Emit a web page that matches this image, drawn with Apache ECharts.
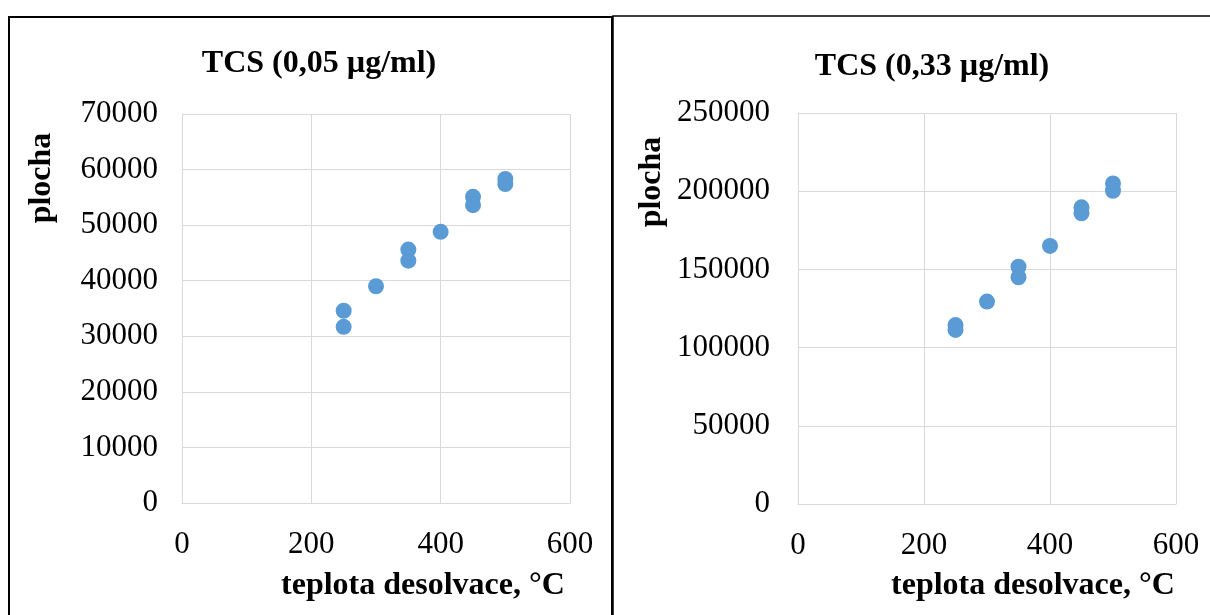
<!DOCTYPE html>
<html>
<head>
<meta charset="utf-8">
<script src="https://cdn.jsdelivr.net/npm/echarts@6/dist/echarts.min.js"></script>
<style>
html,body{margin:0;padding:0;background:#fff;}
#c{width:1210px;height:615px;}
</style>
</head>
<body>
<div id="c"></div>
<script>
// Data
const titles = ['TCS (0,05 µg/ml)', 'TCS (0,33 µg/ml)'];
const xName = 'teplota desolvace, °C';
const yName = 'plocha';
const temps = [250, 250, 300, 350, 350, 400, 450, 450, 500, 500];
const areaLow = [34600, 31700, 39000, 45600, 43600, 48800, 55100, 53600, 58300, 57400];
const areaHigh = [114400, 111300, 129400, 151700, 145000, 165000, 189700, 185900, 205000, 200300];
const xTicks = [0, 200, 400, 600];
const yTicksLow = [0, 10000, 20000, 30000, 40000, 50000, 60000, 70000];
const yTicksHigh = [0, 50000, 100000, 150000, 200000, 250000];

const FONT = '"Liberation Serif", "Times New Roman", serif';
const gridColor = '#d9d9d9';
const dotColor = '#5b9bd5';

function pairs(xs, ys) { return xs.map((x, i) => [x, ys[i]]); }
function plain(v) { return String(v); }

function xAxisFor(idx) {
  return {
    type: 'value', gridIndex: idx,
    min: xTicks[0], max: xTicks[xTicks.length - 1], interval: xTicks[1] - xTicks[0],
    axisLine: { show: true, lineStyle: { color: gridColor, width: 1 } },
    axisTick: { show: false },
    splitLine: { show: true, lineStyle: { color: gridColor, width: 1 } },
    axisLabel: { color: '#000', fontFamily: FONT, fontSize: 31, margin: 26, formatter: plain }
  };
}
function yAxisFor(idx, ticks, margin) {
  return {
    type: 'value', gridIndex: idx,
    min: ticks[0], max: ticks[ticks.length - 1], interval: ticks[1] - ticks[0],
    axisLine: { show: true, lineStyle: { color: gridColor, width: 1 } },
    axisTick: { show: false },
    splitLine: { show: true, lineStyle: { color: gridColor, width: 1 } },
    axisLabel: { color: '#000', fontFamily: FONT, fontSize: 31, margin: margin, formatter: plain }
  };
}

const chart = echarts.init(document.getElementById('c'), null, { renderer: 'canvas' });
chart.setOption({
  backgroundColor: '#fff',
  animation: false,
  title: [
    { text: titles[0], left: 314, top: 59, textAlign: 'center', textVerticalAlign: 'middle',
      textStyle: { fontFamily: FONT, fontSize: 32, fontWeight: 'bold', color: '#000' } },
    { text: titles[1], left: 927, top: 62, textAlign: 'center', textVerticalAlign: 'middle',
      textStyle: { fontFamily: FONT, fontSize: 32, fontWeight: 'bold', color: '#000' } }
  ],
  grid: [
    { left: 182, top: 114, width: 388, height: 389, containLabel: false },
    { left: 798, top: 113, width: 378, height: 391, containLabel: false }
  ],
  xAxis: [xAxisFor(0), xAxisFor(1)],
  yAxis: [yAxisFor(0, yTicksLow, 24), yAxisFor(1, yTicksHigh, 28)],
  series: [
    { type: 'scatter', xAxisIndex: 0, yAxisIndex: 0, data: pairs(temps, areaLow),
      symbolSize: 16, itemStyle: { color: dotColor, opacity: 1 } },
    { type: 'scatter', xAxisIndex: 1, yAxisIndex: 1, data: pairs(temps, areaHigh),
      symbolSize: 16, itemStyle: { color: dotColor, opacity: 1 } }
  ],
  graphic: [
    { type: 'rect', shape: { x: 9, y: 17, width: 603, height: 620 }, silent: true,
      style: { fill: null, stroke: '#000', lineWidth: 2 } },
    { type: 'rect', shape: { x: 613, y: 16, width: 620, height: 620 }, silent: true,
      style: { fill: null, stroke: '#000', lineWidth: 1.5 } },
    { type: 'text', x: 42, y: 178, rotation: Math.PI / 2,
      style: { text: yName, font: 'bold 32px ' + FONT, fill: '#000', textAlign: 'center', textVerticalAlign: 'middle' } },
    { type: 'text', x: 652, y: 182, rotation: Math.PI / 2,
      style: { text: yName, font: 'bold 32px ' + FONT, fill: '#000', textAlign: 'center', textVerticalAlign: 'middle' } },
    { type: 'text', x: 423, y: 586,
      style: { text: xName, font: 'bold 32px ' + FONT, fill: '#000', textAlign: 'center', textVerticalAlign: 'middle' } },
    { type: 'text', x: 1033, y: 586,
      style: { text: xName, font: 'bold 32px ' + FONT, fill: '#000', textAlign: 'center', textVerticalAlign: 'middle' } }
  ]
});
</script>
</body>
</html>
